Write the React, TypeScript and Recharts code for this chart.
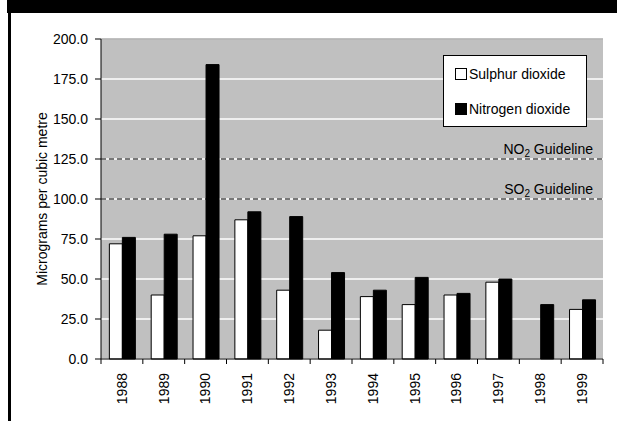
import React from "react";
import {
  BarChart,
  Bar,
  XAxis,
  YAxis,
  CartesianGrid,
  ReferenceLine,
} from "recharts";

// Annual mean concentrations (µg/m³)
const years = ["1988", "1989", "1990", "1991", "1992", "1993", "1994", "1995", "1996", "1997", "1998", "1999"];
const sulphurDioxide = [72, 40, 77, 87, 43, 18, 39, 34, 40, 48, null, 31];
const nitrogenDioxide = [76, 78, 184, 92, 89, 54, 43, 51, 41, 50, 34, 37];

const yTicks = [0, 25, 50, 75, 100, 125, 150, 175, 200];
const no2Guideline = 125;
const so2Guideline = 100;

const data = years.map((year, i) => ({
  year,
  so2: sulphurDioxide[i],
  no2: nitrogenDioxide[i],
}));

const FONT = "'Liberation Sans', Arial, sans-serif";
const FS = 14;
const W = 617;
const H = 421;
const MARGIN = { top: 39, right: 14, bottom: 12, left: 0 };
const Y_AXIS_W = 101;
const X_AXIS_H = 50;
const PLOT_W = W - MARGIN.left - MARGIN.right - Y_AXIS_W;
const STEP = PLOT_W / years.length;

// Year labels, read bottom-to-top, with tick marks on category boundaries
const YearTick = (props: any) => {
  const { x, y, payload, index } = props;
  const left = x - STEP / 2;
  const axisY = y - 8;
  return (
    <g>
      <line x1={left} y1={axisY} x2={left} y2={axisY + 5} stroke="#000" />
      {index === years.length - 1 && (
        <line x1={x + STEP / 2} y1={axisY} x2={x + STEP / 2} y2={axisY + 5} stroke="#000" />
      )}
      <text
        x={x}
        y={axisY + 14}
        transform={`rotate(-90, ${x}, ${axisY + 14})`}
        textAnchor="end"
        dy="0.35em"
        fontSize={FS}
        fontFamily={FONT}
        fill="#000"
      >
        {payload.value}
      </text>
    </g>
  );
};

const guidelineLabel = (gas: string) => (props: any) => {
  const { viewBox } = props;
  const xEnd = viewBox.x + viewBox.width - 10;
  const yText = viewBox.y - 5;
  return (
    <text x={xEnd} y={yText} textAnchor="end" fontSize={FS} fontFamily={FONT} fill="#000">
      <tspan>{gas}O</tspan>
      <tspan fontSize={10} dy={3}>2</tspan>
      <tspan dy={-3}> Guideline</tspan>
    </text>
  );
};

const yLabel = (props: any) => {
  const { viewBox } = props;
  const cx = 42;
  const cy = viewBox.y + viewBox.height / 2;
  return (
    <text
      x={cx}
      y={cy}
      transform={`rotate(-90, ${cx}, ${cy})`}
      textAnchor="middle"
      dy="0.35em"
      fontSize={FS}
      fontFamily={FONT}
      fill="#000"
    >
      Micrograms per cubic metre
    </text>
  );
};

const swatch = (fill: string) => ({
  display: "inline-block",
  width: 12,
  height: 12,
  boxSizing: "border-box" as const,
  border: "1px solid #000",
  background: fill,
  marginRight: 2,
});

export default function App() {
  return (
    <div
      style={{
        position: "absolute",
        left: 0,
        top: 0,
        width: W,
        height: H,
        background: "#fff",
        fontFamily: FONT,
      }}
    >
      <BarChart
        width={W}
        height={H}
        data={data}
        margin={MARGIN}
        barCategoryGap="20%"
        barGap={0}
      >
        <CartesianGrid vertical={false} stroke="#fff" strokeWidth={1.5} fill="#c0c0c0" fillOpacity={1} />
        <XAxis
          dataKey="year"
          height={X_AXIS_H}
          axisLine={{ stroke: "#000" }}
          tickLine={false}
          interval={0}
          tick={<YearTick />}
        />
        <YAxis
          width={Y_AXIS_W}
          domain={[0, 200]}
          ticks={yTicks}
          interval={0}
          tickFormatter={(v: number) => v.toFixed(1)}
          axisLine={{ stroke: "#000" }}
          tickLine={{ stroke: "#000" }}
          tickSize={6}
          tickMargin={7}
          tick={{ fontSize: FS, fill: "#000", fontFamily: FONT }}
          label={yLabel}
        />
        <YAxis
          yAxisId="frame"
          orientation="right"
          width={0}
          domain={[0, 200]}
          ticks={yTicks}
          tick={false}
          tickLine={false}
          axisLine={{ stroke: "#808080" }}
        />
        <ReferenceLine y={200} stroke="#808080" />
        <Bar dataKey="so2" fill="#fff" stroke="#000" strokeWidth={1} isAnimationActive={false} />
        <Bar dataKey="no2" fill="#000" stroke="#000" strokeWidth={1} isAnimationActive={false} />
        <ReferenceLine
          y={no2Guideline}
          stroke="#000"
          strokeDasharray="5 3"
          label={guidelineLabel("N")}
        />
        <ReferenceLine
          y={so2Guideline}
          stroke="#000"
          strokeDasharray="5 3"
          label={guidelineLabel("S")}
        />
      </BarChart>

      {/* frame: black bar across the top, rule down the left side */}
      <div style={{ position: "absolute", left: 7, top: 0, width: W - 7, height: 13, background: "#000" }} />
      <div style={{ position: "absolute", left: 8, top: 0, width: 3, height: H, background: "#000" }} />

      {/* legend */}
      <div
        style={{
          position: "absolute",
          left: 443,
          top: 55,
          width: 144,
          height: 72,
          boxSizing: "border-box",
          background: "#fff",
          border: "1px solid #000",
          fontSize: FS,
          color: "#000",
        }}
      >
        <div style={{ position: "absolute", left: 11, top: 10, display: "flex", alignItems: "center" }}>
          <span style={swatch("#fff")} />
          Sulphur dioxide
        </div>
        <div style={{ position: "absolute", left: 11, top: 45, display: "flex", alignItems: "center" }}>
          <span style={swatch("#000")} />
          Nitrogen dioxide
        </div>
      </div>
    </div>
  );
}
